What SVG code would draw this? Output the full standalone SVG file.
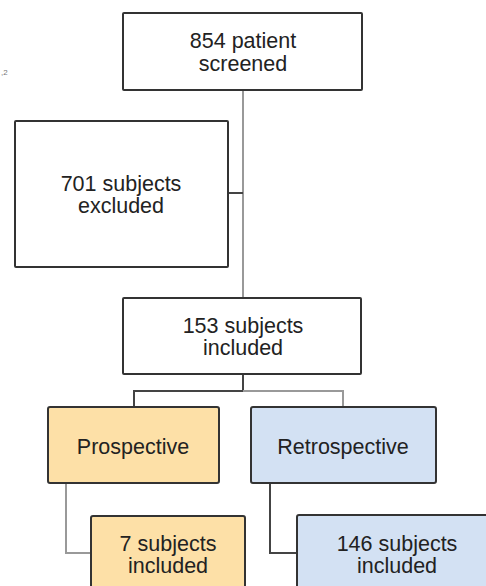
<svg xmlns="http://www.w3.org/2000/svg" width="486" height="586" viewBox="0 0 486 586">
<style>
.box{stroke:#333;stroke-width:2}
.w{fill:#fff}
.y{fill:#fde0a7}
.b{fill:#d3e1f3}
.t{font-family:"Liberation Sans",Arial,sans-serif;font-size:21.5px;fill:#222;text-anchor:middle}
.c{fill:none;stroke-width:2}
.dk{stroke:#444}
.gr{stroke:#999}
</style>
<rect width="486" height="586" fill="#fff"/>
<text x="1" y="75" font-family="Liberation Sans,Arial,sans-serif" font-size="8" fill="#777">,2</text>
<g id="connectors">
<path class="c gr" d="M243 90 V298"/>
<path class="c dk" d="M228 193 H243"/>
<path class="c dk" d="M243 374 V391 H134 V407"/>
<path class="c gr" d="M243 391 H343 V407"/>
<path class="c gr" d="M66 483 V553 H91"/>
<path class="c dk" d="M270 483 V553 H297"/>
</g>
<g id="screened">
<rect class="box w" x="123" y="13" width="239" height="77" rx="1"/>
<text class="t" x="243" y="48">854 patient</text>
<text class="t" x="243" y="71">screened</text>
</g>
<g id="excluded">
<rect class="box w" x="15" y="121" width="213" height="146" rx="1"/>
<text class="t" x="121" y="191">701 subjects</text>
<text class="t" x="121" y="213">excluded</text>
</g>
<g id="included">
<rect class="box w" x="123" y="298" width="238" height="76" rx="1"/>
<text class="t" x="243" y="333">153 subjects</text>
<text class="t" x="243" y="355">included</text>
</g>
<g id="prospective">
<rect class="box y" x="48" y="407" width="171" height="76" rx="2"/>
<text class="t" x="133" y="454">Prospective</text>
</g>
<g id="retrospective">
<rect class="box b" x="251" y="407" width="185" height="76" rx="2"/>
<text class="t" x="343" y="454">Retrospective</text>
</g>
<g id="pro-included">
<rect class="box y" x="91" y="516" width="154" height="80" rx="2"/>
<text class="t" x="168" y="551">7 subjects</text>
<text class="t" x="168" y="573">included</text>
</g>
<g id="retro-included">
<rect class="box b" x="297" y="515" width="200" height="80" rx="2"/>
<text class="t" x="397" y="551">146 subjects</text>
<text class="t" x="397" y="573">included</text>
</g>
</svg>
